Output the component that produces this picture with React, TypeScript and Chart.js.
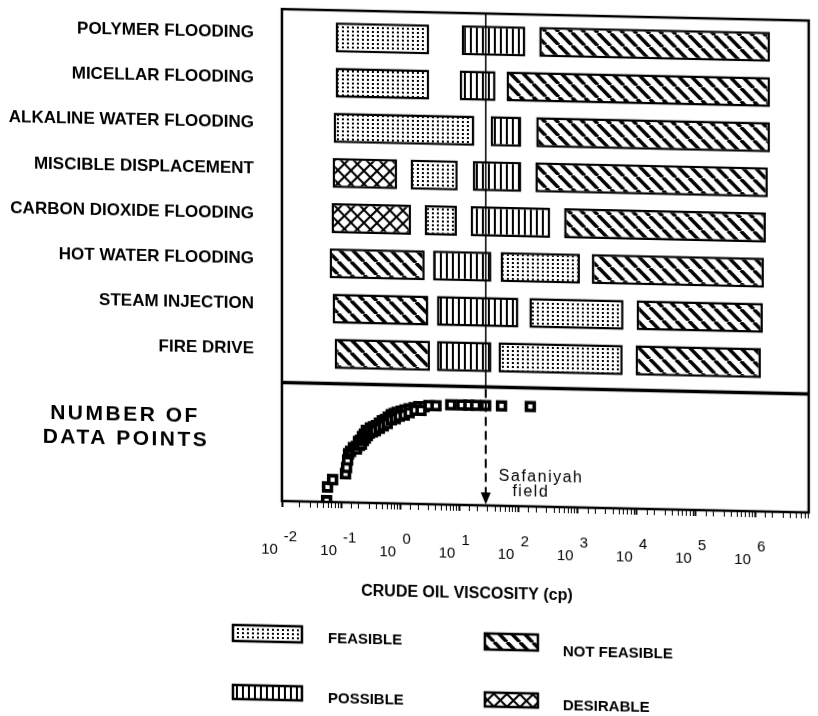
import React, { useEffect, useRef } from "react";
import { Chart, registerables } from "chart.js";

Chart.register(...registerables);

const FONT = '"Liberation Sans", Arial, Helvetica, sans-serif';

// ---- categories ----
const methods = [
  "POLYMER FLOODING",
  "MICELLAR FLOODING",
  "ALKALINE WATER FLOODING",
  "MISCIBLE DISPLACEMENT",
  "CARBON DIOXIDE FLOODING",
  "HOT WATER FLOODING",
  "STEAM INJECTION",
  "FIRE DRIVE",
];

// ---- viscosity ranges (cp) for each method, per applicability class ----
type Range = [number, number] | null;
const feasibleRanges: Range[] = [
  [0.081, 3.1], [0.081, 3.1], [0.075, 18], [1.5, 9.4],
  [2.6, 9.1], [50, 1100], [153, 6000], [46, 5800],
];
const possibleRanges: Range[] = [
  [11, 131], [10.2, 41], [34, 112], [17, 112],
  [15.6, 345], [3.6, 35], [4.2, 100], [4.2, 35],
];
const notFeasibleLowRanges: Range[] = [
  null, null, null, null, null, [0.064, 2.6], [0.072, 3.0], [0.078, 3.2],
];
const notFeasibleHighRanges: Range[] = [
  [225, 1.8e6], [63, 1.8e6], [200, 1.8e6], [193, 1.65e6],
  [593, 1.53e6], [1750, 1.42e6], [10000, 1.36e6], [9600, 1.26e6],
];
const desirableRanges: Range[] = [
  null, null, null, [0.072, 0.89], [0.069, 1.53], null, null, null,
];

// ---- number of data points vs viscosity ----
const dataPointViscosity = [
  0.057, 0.059, 0.072, 0.119, 0.124, 0.129, 0.134,
  0.145, 0.162, 0.182, 0.197, 0.213, 0.23, 0.248, 0.268, 0.29, 0.313,
  0.352, 0.395, 0.444, 0.498, 0.56, 0.628, 0.706, 0.792, 0.891, 1.04,
  1.21, 1.42, 1.72, 2.08, 2.53, 3.07, 4.03,
  7.19, 11.0, 14.5, 18.9, 27.9, 51.8, 159,
  0.182, 0.205, 0.221, 0.239, 0.258, 0.279, 0.301, 0.338, 0.38, 0.444,
  0.518, 0.605, 0.706, 0.824, 0.962, 1.17, 1.42, 1.79, 2.25,
];
const dataPointCount = [
  1, 12, 18, 23, 28, 34, 39,
  41, 44, 45, 49, 50, 53, 55, 58, 58, 60,
  61, 62, 64, 66, 67, 69, 71, 72, 73, 74,
  75, 76, 77, 78, 78, 79, 79,
  80, 80, 80, 80, 80, 80, 80,
  43, 46, 47, 50, 52, 54, 56, 57, 58, 60,
  62, 64, 67, 68, 70, 71, 73, 75, 75,
];

const xTickExponents = [-2, -1, 0, 1, 2, 3, 4, 5, 6];
const safaniyahViscosity = 28;

const legendEntries = [
  { label: "FEASIBLE", kind: "feasible" },
  { label: "NOT FEASIBLE", kind: "notFeasible" },
  { label: "POSSIBLE", kind: "possible" },
  { label: "DESIRABLE", kind: "desirable" },
];

function toBars(ranges: Range[]) {
  const out: any[] = [];
  ranges.forEach((r, i) => {
    if (r) out.push({ x: r, y: i });
  });
  return out;
}

function makePattern(kind: string): any {
  const c = document.createElement("canvas");
  const g = c.getContext("2d") as CanvasRenderingContext2D;
  if (kind === "feasible") {
    c.width = 5; c.height = 4;
    g.fillStyle = "#fff"; g.fillRect(0, 0, 5, 4);
    g.fillStyle = "#000"; g.fillRect(2, 1, 2, 2);
  } else if (kind === "possible") {
    c.width = 6; c.height = 6;
    g.fillStyle = "#fff"; g.fillRect(0, 0, 6, 6);
    g.fillStyle = "#000"; g.fillRect(2, 0, 2, 6);
  } else if (kind === "notFeasible") {
    const s = 13; c.width = s; c.height = s;
    g.fillStyle = "#fff"; g.fillRect(0, 0, s, s);
    g.strokeStyle = "#000"; g.lineWidth = 3.6;
    for (const o of [-s, 0, s]) {
      g.beginPath(); g.moveTo(o, 0); g.lineTo(o + s, s); g.stroke();
    }
  } else {
    const s = 13; c.width = s; c.height = s;
    g.fillStyle = "#fff"; g.fillRect(0, 0, s, s);
    g.strokeStyle = "#000"; g.lineWidth = 2;
    for (const o of [-s, 0, s]) {
      g.beginPath(); g.moveTo(o, 0); g.lineTo(o + s, s); g.stroke();
      g.beginPath(); g.moveTo(o + s, 0); g.lineTo(o, s); g.stroke();
    }
  }
  return g.createPattern(c, "repeat");
}

function makeDecorPlugin(patterns: Record<string, any>) {
  return {
    id: "decor",
    afterDatasetsDraw(chart: any) {
      const { ctx, chartArea, scales } = chart;
      const px = scales.x.getPixelForValue(safaniyahViscosity);
      const yTop = scales.y;
      const yLow = scales.y2;
      ctx.save();
      ctx.strokeStyle = "#000";
      ctx.lineWidth = 1.5;
      ctx.beginPath();
      ctx.moveTo(px, chartArea.top);
      ctx.lineTo(px, yTop.bottom);
      ctx.stroke();
      ctx.lineWidth = 2;
      ctx.setLineDash([9, 5]);
      ctx.beginPath();
      ctx.moveTo(px, yLow.top + 2);
      ctx.lineTo(px, yLow.bottom - 11);
      ctx.stroke();
      ctx.setLineDash([]);
      ctx.fillStyle = "#000";
      ctx.beginPath();
      ctx.moveTo(px - 5, yLow.bottom - 13);
      ctx.lineTo(px + 5, yLow.bottom - 13);
      ctx.lineTo(px, yLow.bottom - 1);
      ctx.closePath();
      ctx.fill();
      ctx.font = `16px ${FONT}`;
      (ctx as any).letterSpacing = "1.5px";
      ctx.textBaseline = "middle";
      ctx.textAlign = "left";
      ctx.fillText("Safaniyah", px + 13, yLow.bottom - 29);
      ctx.textAlign = "center";
      ctx.fillText("field", px + 45, yLow.bottom - 14);
      ctx.restore();
    },
    afterDraw(chart: any) {
      const { ctx, chartArea, scales } = chart;
      const yTop = scales.y;
      const yLow = scales.y2;
      ctx.save();
      ctx.strokeStyle = "#000";
      ctx.lineWidth = 2.5;
      ctx.strokeRect(chartArea.left, chartArea.top, chartArea.right - chartArea.left, chartArea.bottom - chartArea.top);
      ctx.lineWidth = 3.5;
      ctx.beginPath();
      ctx.moveTo(chartArea.left, yTop.bottom);
      ctx.lineTo(chartArea.right, yTop.bottom);
      ctx.stroke();

      ctx.fillStyle = "#000";
      ctx.textBaseline = "middle";
      ctx.textAlign = "center";
      ctx.font = `bold 21px ${FONT}`;
      (ctx as any).letterSpacing = "2.5px";
      ctx.fillText("NUMBER OF", 125, yLow.top + 36);
      ctx.fillText("DATA POINTS", 126, yLow.top + 60);

      (ctx as any).letterSpacing = "0px";
      ctx.font = `bold 16px ${FONT}`;
      ctx.fillText("CRUDE OIL VISCOSITY (cp)", chartArea.left + 185, chartArea.bottom + 89);

      // legend 2x2
      const cols = [
        { sx: 233, sw: 69, tx: 328 },
        { sx: 485, sw: 53, tx: 563 },
      ];
      const rows = [
        [{ sy: 626, sh: 16, ty: 638 }, { sy: 629, sh: 16, ty: 646 }],
        [{ sy: 686, sh: 14, ty: 698 }, { sy: 688, sh: 14, ty: 700 }],
      ];
      ctx.font = `bold 15px ${FONT}`;
      ctx.textAlign = "left";
      legendEntries.forEach((entry, i) => {
        const col = cols[i % 2];
        const r = rows[Math.floor(i / 2)][i % 2];
        ctx.fillStyle = patterns[entry.kind];
        ctx.fillRect(col.sx, r.sy, col.sw, r.sh);
        ctx.lineWidth = 2.5;
        ctx.strokeRect(col.sx, r.sy, col.sw, r.sh);
        ctx.fillStyle = "#000";
        ctx.fillText(entry.label, col.tx, r.ty);
      });
      ctx.restore();
    },
  };
}

const noPad = (s: any) => {
  s.paddingTop = 0;
  s.paddingBottom = 0;
  s.paddingLeft = 0;
  s.paddingRight = 0;
};

export default function App() {
  const canvasRef = useRef<HTMLCanvasElement | null>(null);

  useEffect(() => {
    const canvas = canvasRef.current;
    if (!canvas) return;
    const patterns: Record<string, any> = {
      feasible: makePattern("feasible"),
      possible: makePattern("possible"),
      notFeasible: makePattern("notFeasible"),
      desirable: makePattern("desirable"),
    };
    const barCommon = {
      type: "bar",
      indexAxis: "y",
      xAxisID: "x",
      yAxisID: "y",
      grouped: false,
      borderColor: "#000",
      borderWidth: 2.5,
      borderSkipped: false,
      barPercentage: 0.665,
      categoryPercentage: 1,
    };
    const chart = new Chart(canvas, {
      type: "bar",
      data: {
        datasets: [
          { ...barCommon, label: "FEASIBLE", data: toBars(feasibleRanges), backgroundColor: patterns.feasible },
          { ...barCommon, label: "POSSIBLE", data: toBars(possibleRanges), backgroundColor: patterns.possible },
          { ...barCommon, label: "NOT FEASIBLE", data: toBars(notFeasibleLowRanges), backgroundColor: patterns.notFeasible },
          { ...barCommon, label: "NOT FEASIBLE", data: toBars(notFeasibleHighRanges), backgroundColor: patterns.notFeasible },
          { ...barCommon, label: "DESIRABLE", data: toBars(desirableRanges), backgroundColor: patterns.desirable },
          {
            type: "scatter",
            label: "NUMBER OF DATA POINTS",
            data: dataPointViscosity.map((v, i) => ({ x: v, y: dataPointCount[i] })),
            xAxisID: "x",
            yAxisID: "y2",
            pointStyle: "rect",
            pointRadius: 5.5,
            borderColor: "#000",
            borderWidth: 3.6,
            backgroundColor: "#fff",
            showLine: false,
          },
        ] as any,
      },
      options: {
        responsive: false,
        animation: false,
        layout: { padding: { top: 3, right: 6, left: 0, bottom: 0 } },
        plugins: { legend: { display: false }, tooltip: { enabled: false } },
        scales: {
          x: {
            type: "logarithmic",
            position: "bottom",
            min: 0.01,
            max: Math.pow(10, 6.91),
            offset: false,
            grid: {
              display: true,
              offset: false,
              drawOnChartArea: false,
              drawTicks: true,
              tickLength: 6,
              color: "#000",
              tickWidth: (ctx: any) => (ctx.tick && ctx.tick.major ? 2 : 1),
            },
            border: { display: false },
            ticks: {
              autoSkip: false,
              maxRotation: 0,
              minRotation: 0,
              padding: 23,
              labelOffset: -2,
              color: "#000",
              font: { family: FONT, size: 15, lineHeight: 0.9 },
              callback: (value: any) => {
                const e = Math.log10(Number(value));
                const r = Math.round(e);
                if (Math.abs(e - r) > 1e-6 || !xTickExponents.includes(r)) return "";
                if (r < 0) return ["     -" + Math.abs(r), "10     "];
                return ["    " + r, "10     "];
              },
            },
            afterFit: (s: any) => { noPad(s); s.height = 215; },
          },
          y: {
            type: "linear",
            position: "left",
            stack: "panels",
            stackWeight: 378,
            weight: 1,
            reverse: true,
            offset: false,
            min: -0.6,
            max: 7.66,
            grid: { display: false, drawTicks: false, offset: false },
            border: { display: false },
            ticks: {
              autoSkip: false,
              padding: 28,
              labelOffset: -3,
              color: "#000",
              font: { family: FONT, size: 17, weight: "bold" },
              callback: (v: any) => methods[Number(v)] ?? "",
            },
            afterBuildTicks: (s: any) => { s.ticks = methods.map((_, i) => ({ value: i })); },
            afterFit: (s: any) => { noPad(s); s.width = 282; },
          },
          y2: {
            type: "linear",
            position: "left",
            stack: "panels",
            stackWeight: 120,
            weight: 0,
            offset: false,
            min: 0,
            max: 95,
            grid: { display: false, drawTicks: false },
            border: { display: false },
            ticks: { display: false },
            afterFit: (s: any) => { noPad(s); s.width = 282; },
          },
        },
      } as any,
      plugins: [makeDecorPlugin(patterns)],
    } as any);
    return () => chart.destroy();
  }, []);

  return (
    <div style={{ position: "fixed", left: 0, top: 0, width: 818, height: 716 }}>
      <canvas
        ref={canvasRef}
        width={818}
        height={716}
        style={{ display: "block", transform: "skewY(1.25deg)", transformOrigin: "282px 0px" }}
      />
    </div>
  );
}
